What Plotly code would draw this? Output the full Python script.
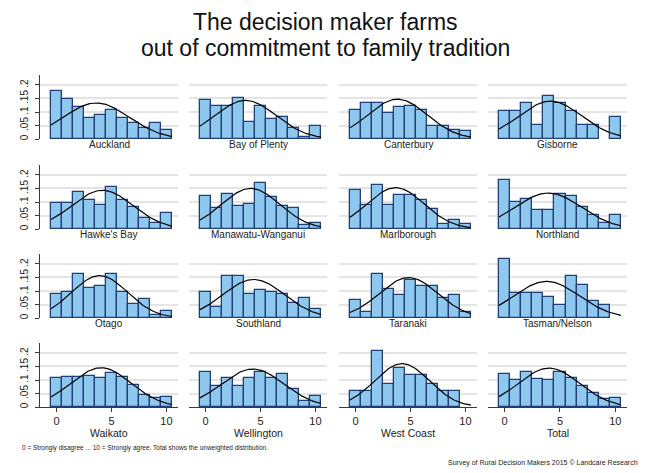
import numpy as np
import plotly.graph_objects as go

# ---------------- data ----------------
scores = list(range(11))
regions = ["Auckland", "Bay of Plenty", "Canterbury", "Gisborne",
           "Hawke's Bay", "Manawatu-Wanganui", "Marlborough", "Northland",
           "Otago", "Southland", "Taranaki", "Tasman/Nelson",
           "Waikato", "Wellington", "West Coast", "Total"]

auckland = [0.179, 0.149, 0.120, 0.079, 0.088, 0.109, 0.079, 0.061, 0.039, 0.061, 0.032]
bay_of_plenty = [0.145, 0.123, 0.123, 0.151, 0.062, 0.123, 0.074, 0.080, 0.040, 0.007, 0.048]
canterbury = [0.107, 0.135, 0.133, 0.096, 0.118, 0.121, 0.109, 0.050, 0.048, 0.033, 0.029]
gisborne = [0.105, 0.105, 0.134, 0.052, 0.161, 0.134, 0.105, 0.052, 0.052, None, 0.080]
hawkes_bay = [0.098, 0.098, 0.137, 0.108, 0.088, 0.155, 0.108, 0.082, 0.039, 0.024, 0.058]
manawatu = [0.123, 0.076, 0.129, 0.085, 0.091, 0.172, 0.120, 0.085, 0.076, 0.015, 0.021]
marlborough = [0.144, 0.089, 0.163, 0.089, 0.126, 0.126, 0.107, 0.073, 0.018, 0.035, 0.017]
northland = [0.180, 0.100, 0.111, 0.071, 0.071, 0.129, 0.123, 0.082, 0.051, 0.024, 0.051]
otago = [0.090, 0.096, 0.162, 0.110, 0.117, 0.162, 0.096, 0.053, 0.070, 0.011, 0.026]
southland = [0.098, 0.039, 0.155, 0.155, 0.090, 0.104, 0.098, 0.090, 0.056, 0.074, 0.032]
taranaki = [0.065, 0.022, 0.162, 0.108, 0.086, 0.140, 0.118, 0.118, 0.074, 0.087, 0.022]
tasman = [0.217, 0.094, 0.092, 0.092, 0.077, 0.047, 0.155, 0.124, 0.063, 0.047, None]
waikato = [0.108, 0.112, 0.112, 0.114, 0.108, 0.127, 0.112, 0.081, 0.045, 0.032, 0.037]
wellington = [0.130, 0.078, 0.108, 0.077, 0.108, 0.130, 0.108, 0.122, 0.066, 0.022, 0.042]
west_coast = [0.060, 0.060, 0.207, 0.087, 0.145, 0.118, 0.118, 0.087, 0.060, 0.060, None]
total = [0.122, 0.099, 0.130, 0.104, 0.099, 0.130, 0.108, 0.078, 0.053, 0.031, 0.034]

series = [auckland, bay_of_plenty, canterbury, gisborne,
          hawkes_bay, manawatu, marlborough, northland,
          otago, southland, taranaki, tasman,
          waikato, wellington, west_coast, total]

y_tickvals = [0, 0.05, 0.1, 0.15, 0.2]
y_ticktext = ["0", ".05", ".1", ".15", ".2"]
x_tickvals = [0, 5, 10]
x_ticktext = ["0", "5", "10"]

title_lines = ["The decision maker farms", "out of commitment to family tradition"]
footnote = "0 = Strongly disagree ... 10 = Strongly agree. Total shows the unweighted distribution."
credit = "Survey of Rural Decision Makers 2015 \u00a9 Landcare Research"

# ---------------- layout geometry ----------------
OFF = 8                      # page body margin in the browser
W, H = 650 - OFF, 473 - OFF  # figure size so it fits the window
col_px = [(40, 178), (189, 327), (339, 477), (488, 627)]
row_px = [(75, 139), (165, 229), (254, 318), (343, 407)]
XR = [-1.5, 11.05]
YR = [0, 0.237]

def px(x):
    return (x - OFF) / W

def py(y):
    return 1 - (y - OFF) / H

FONT = "Liberation Sans, Arial, sans-serif"
BAR_FILL = "#8ec8ee"
BAR_LINE = "#1f3f76"
GRID = "#e4e4e4"
AXIS = "#3a3a3a"

fig = go.Figure()
layout = {}
annotations = []

for i, (name, vals) in enumerate(zip(regions, series)):
    r, c = divmod(i, 4)
    n = i + 1
    xa = "x" if n == 1 else f"x{n}"
    ya = "y" if n == 1 else f"y{n}"
    xkey = "xaxis" if n == 1 else f"xaxis{n}"
    ykey = "yaxis" if n == 1 else f"yaxis{n}"

    fig.add_trace(go.Bar(
        x=scores, y=vals, width=1.0, xaxis=xa, yaxis=ya,
        marker=dict(color=BAR_FILL, line=dict(color=BAR_LINE, width=1.3)),
        showlegend=False, hoverinfo="x+y"))

    # fitted normal density from the histogram
    k = np.array(scores, dtype=float)
    p = np.array([v if v is not None else 0.0 for v in vals], dtype=float)
    p = p / p.sum()
    mu = (k * p).sum()
    sd = np.sqrt(((k - mu) ** 2 * p).sum())
    xs = np.linspace(-0.5, 10.5, 120)
    ys = np.exp(-0.5 * ((xs - mu) / sd) ** 2) / (sd * np.sqrt(2 * np.pi))
    fig.add_trace(go.Scatter(
        x=xs, y=ys, mode="lines", xaxis=xa, yaxis=ya,
        line=dict(color="black", width=1.2), showlegend=False, hoverinfo="skip"))

    x0, x1 = col_px[c]
    t, b = row_px[r]
    bottom_row = (r == 3)
    left_col = (c == 0)

    layout[xkey] = dict(
        domain=[px(x0), px(x1)], range=XR, anchor=ya,
        showgrid=False, zeroline=False,
        showline=bottom_row, linecolor=AXIS, linewidth=1.2,
        ticks="outside" if bottom_row else "", ticklen=4, tickcolor=AXIS,
        tickvals=x_tickvals, ticktext=x_ticktext,
        showticklabels=bottom_row,
        tickfont=dict(family=FONT, size=11, color="#222"),
        fixedrange=True)
    layout[ykey] = dict(
        domain=[py(b), py(t)], range=YR, anchor=xa,
        showgrid=True, gridcolor=GRID, gridwidth=1.5, zeroline=False,
        showline=left_col, linecolor=AXIS, linewidth=1.2,
        ticks="outside" if left_col else "", ticklen=4, tickcolor=AXIS,
        tickvals=y_tickvals, ticktext=y_ticktext,
        showticklabels=left_col, tickangle=-90, ticklabelstandoff=3,
        tickfont=dict(family=FONT, size=10, color="#222"),
        fixedrange=True)

    label_y = 433 if bottom_row else b + 5
    annotations.append(dict(
        text=name, xref="paper", yref="paper",
        x=px((x0 + x1) / 2), y=py(label_y),
        xanchor="center", yanchor="middle", showarrow=False,
        font=dict(family=FONT, size=10.5 if bottom_row else 10, color="#222")))

for line, ly in zip(title_lines, [22, 48]):
    annotations.append(dict(
        text=line, xref="paper", yref="paper",
        x=px(325), y=py(ly), xanchor="center", yanchor="middle", showarrow=False,
        font=dict(family=FONT, size=23, color="#111")))
annotations.append(dict(
    text=footnote, xref="paper", yref="paper",
    x=px(20), y=py(448), xanchor="left", yanchor="middle", showarrow=False,
    font=dict(family=FONT, size=6.5, color="#222")))
annotations.append(dict(
    text=credit, xref="paper", yref="paper",
    x=px(640), y=py(463), xanchor="right", yanchor="middle", showarrow=False,
    font=dict(family=FONT, size=7, color="#222")))

fig.update_layout(
    width=W, height=H,
    margin=dict(l=0, r=0, t=0, b=0),
    paper_bgcolor="white", plot_bgcolor="white",
    barmode="overlay", bargap=0,
    annotations=annotations,
    font=dict(family=FONT),
    showlegend=False,
    **layout)

fig.write_html("out.html")
